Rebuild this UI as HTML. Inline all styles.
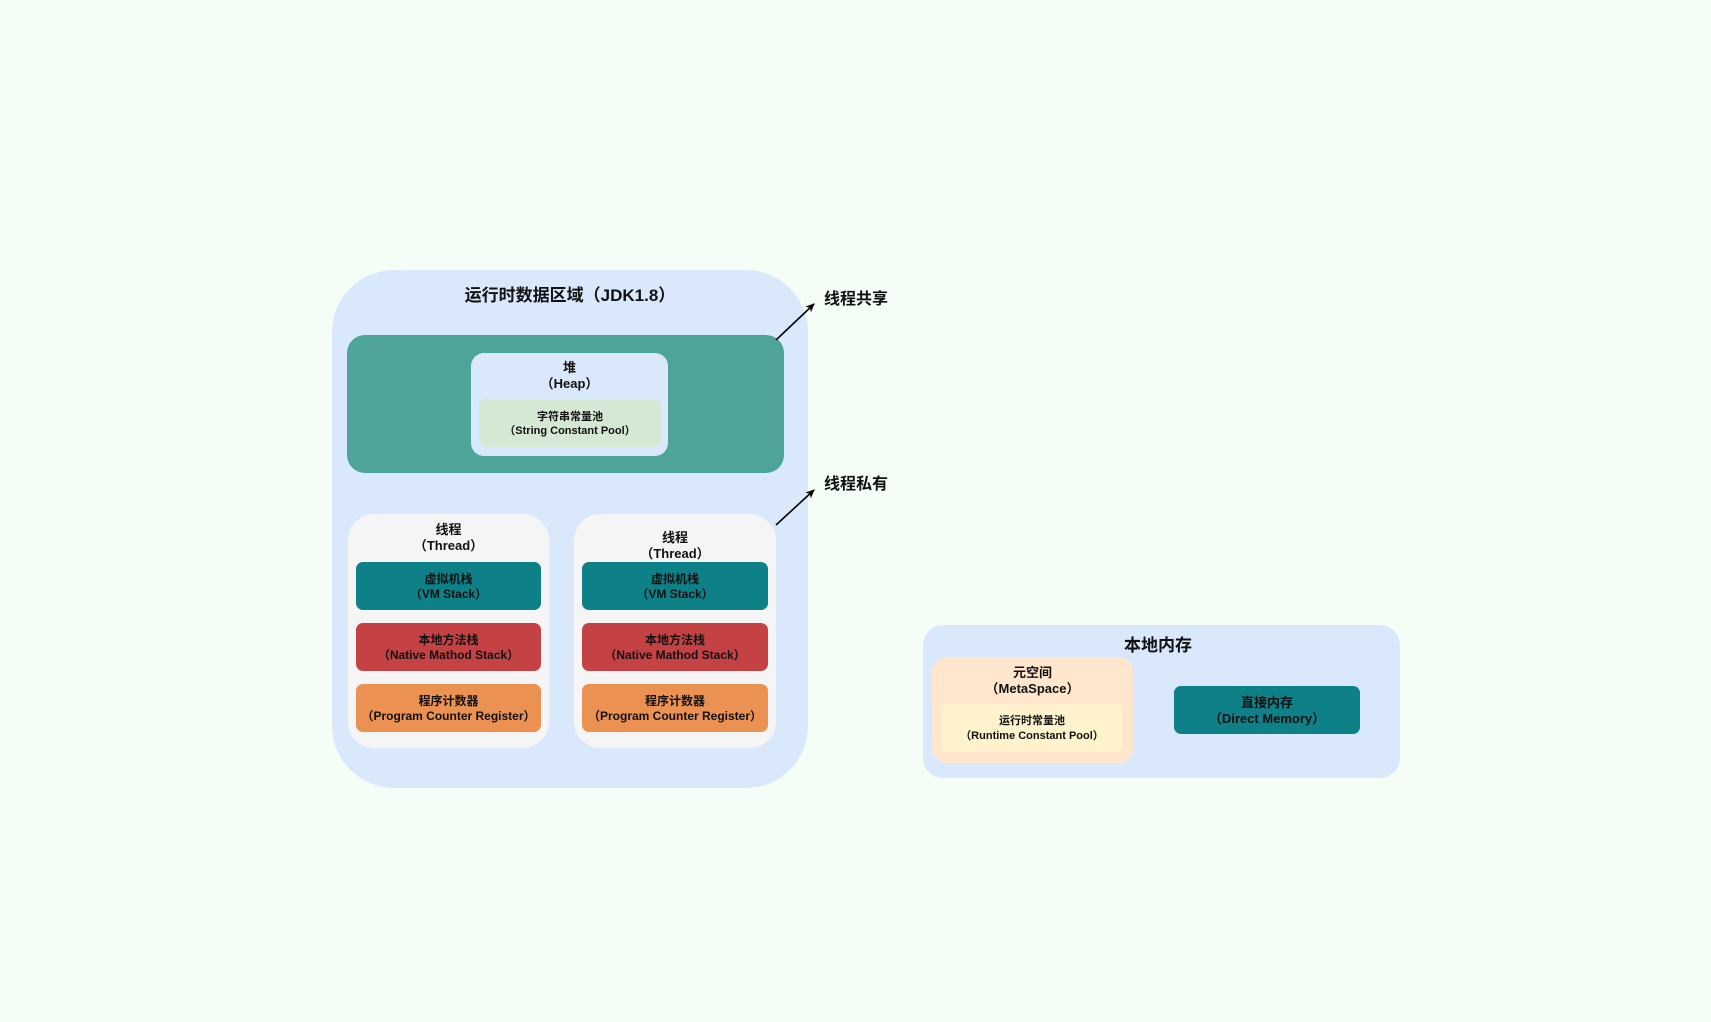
<!DOCTYPE html>
<html>
<head>
<meta charset="utf-8">
<style>
  html,body{margin:0;padding:0;}
  body{width:1711px;height:1022px;background:#f4fef6;position:relative;overflow:hidden;
    font-family:"Liberation Sans","Noto Sans CJK SC",sans-serif;font-weight:bold;color:#111;}
  .b{position:absolute;box-sizing:border-box;}
  .c{display:flex;align-items:center;justify-content:center;text-align:center;flex-direction:column;padding-top:2px;}
  .t{position:absolute;text-align:center;white-space:nowrap;}
</style>
</head>
<body>
<!-- Runtime data area -->
<div class="b" style="left:332px;top:270px;width:476px;height:518px;background:#dae8fc;border-radius:62px;"></div>
<div class="t" style="left:332px;width:476px;top:285px;line-height:22px;font-size:17px;">运行时数据区域（JDK1.8）</div>

<!-- heap area -->
<div class="b" style="left:347px;top:335px;width:437px;height:138px;background:#4ea597;border-radius:18px;"></div>
<div class="b" style="left:471px;top:353px;width:197px;height:103px;background:#dae8fc;border-radius:13px;"></div>
<div class="t" style="left:471px;width:197px;top:359.5px;line-height:16px;font-size:13px;">堆<br>（Heap）</div>
<div class="b c" style="left:479px;top:399px;width:182px;height:48px;background:#d5e8d4;border-radius:7px;font-size:11px;line-height:14.5px;">字符串常量池<br>（String Constant Pool）</div>

<!-- thread 1 -->
<div class="b" style="left:348px;top:514px;width:201px;height:234px;background:#f5f5f5;border-radius:26px;"></div>
<div class="t" style="left:348px;width:201px;top:521.5px;line-height:16px;font-size:13px;">线程<br>（Thread）</div>
<div class="b c" style="left:356px;top:562px;width:185px;height:48px;background:#0e8088;border-radius:7px;font-size:12px;line-height:15px;">虚拟机栈<br>（VM Stack）</div>
<div class="b c" style="left:356px;top:623px;width:185px;height:48px;background:#c44244;border-radius:7px;font-size:12px;line-height:15px;">本地方法栈<br>（Native Mathod Stack）</div>
<div class="b c" style="left:356px;top:684px;width:185px;height:48px;background:#eb9151;border-radius:7px;font-size:12px;line-height:15px;">程序计数器<br>（Program Counter Register）</div>

<!-- thread 2 -->
<div class="b" style="left:574px;top:514px;width:202px;height:234px;background:#f5f5f5;border-radius:26px;"></div>
<div class="t" style="left:574px;width:202px;top:529.5px;line-height:16.5px;font-size:13px;">线程<br>（Thread）</div>
<div class="b c" style="left:582px;top:562px;width:186px;height:48px;background:#0e8088;border-radius:7px;font-size:12px;line-height:15px;">虚拟机栈<br>（VM Stack）</div>
<div class="b c" style="left:582px;top:623px;width:186px;height:48px;background:#c44244;border-radius:7px;font-size:12px;line-height:15px;">本地方法栈<br>（Native Mathod Stack）</div>
<div class="b c" style="left:582px;top:684px;width:186px;height:48px;background:#eb9151;border-radius:7px;font-size:12px;line-height:15px;">程序计数器<br>（Program Counter Register）</div>

<!-- arrows -->
<svg class="b" style="left:0;top:0;" width="1711" height="1022">
  <defs>
    <marker id="ah" markerWidth="10" markerHeight="10" refX="8" refY="5" orient="auto" markerUnits="userSpaceOnUse">
      <path d="M0,1 L9,5 L0,9 L2.5,5 Z" fill="#000"/>
    </marker>
  </defs>
  <line x1="776" y1="340" x2="814" y2="304" stroke="#000" stroke-width="1.6" marker-end="url(#ah)"/>
  <line x1="776" y1="525" x2="814" y2="490" stroke="#000" stroke-width="1.6" marker-end="url(#ah)"/>
</svg>
<div class="t" style="left:824px;top:290px;line-height:20px;font-size:16px;">线程共享</div>
<div class="t" style="left:824px;top:475px;line-height:20px;font-size:16px;">线程私有</div>

<!-- local memory -->
<div class="b" style="left:923px;top:625px;width:477px;height:153px;background:#dae8fc;border-radius:20px;"></div>
<div class="t" style="left:1078px;width:160px;top:635px;line-height:22px;font-size:17px;">本地内存</div>
<div class="b" style="left:932px;top:657px;width:201px;height:106px;background:#ffe6cc;border-radius:15px;"></div>
<div class="t" style="left:932px;width:201px;top:665px;line-height:15.5px;font-size:13px;">元空间<br>（MetaSpace）</div>
<div class="b c" style="left:942px;top:704px;width:180px;height:48px;background:#fff2cc;border-radius:3px;font-size:11px;line-height:15px;">运行时常量池<br>（Runtime Constant Pool）</div>
<div class="b c" style="left:1174px;top:686px;width:186px;height:48px;background:#0e8088;border-radius:7px;font-size:13px;line-height:16.5px;">直接内存<br>（Direct Memory）</div>
</body>
</html>
